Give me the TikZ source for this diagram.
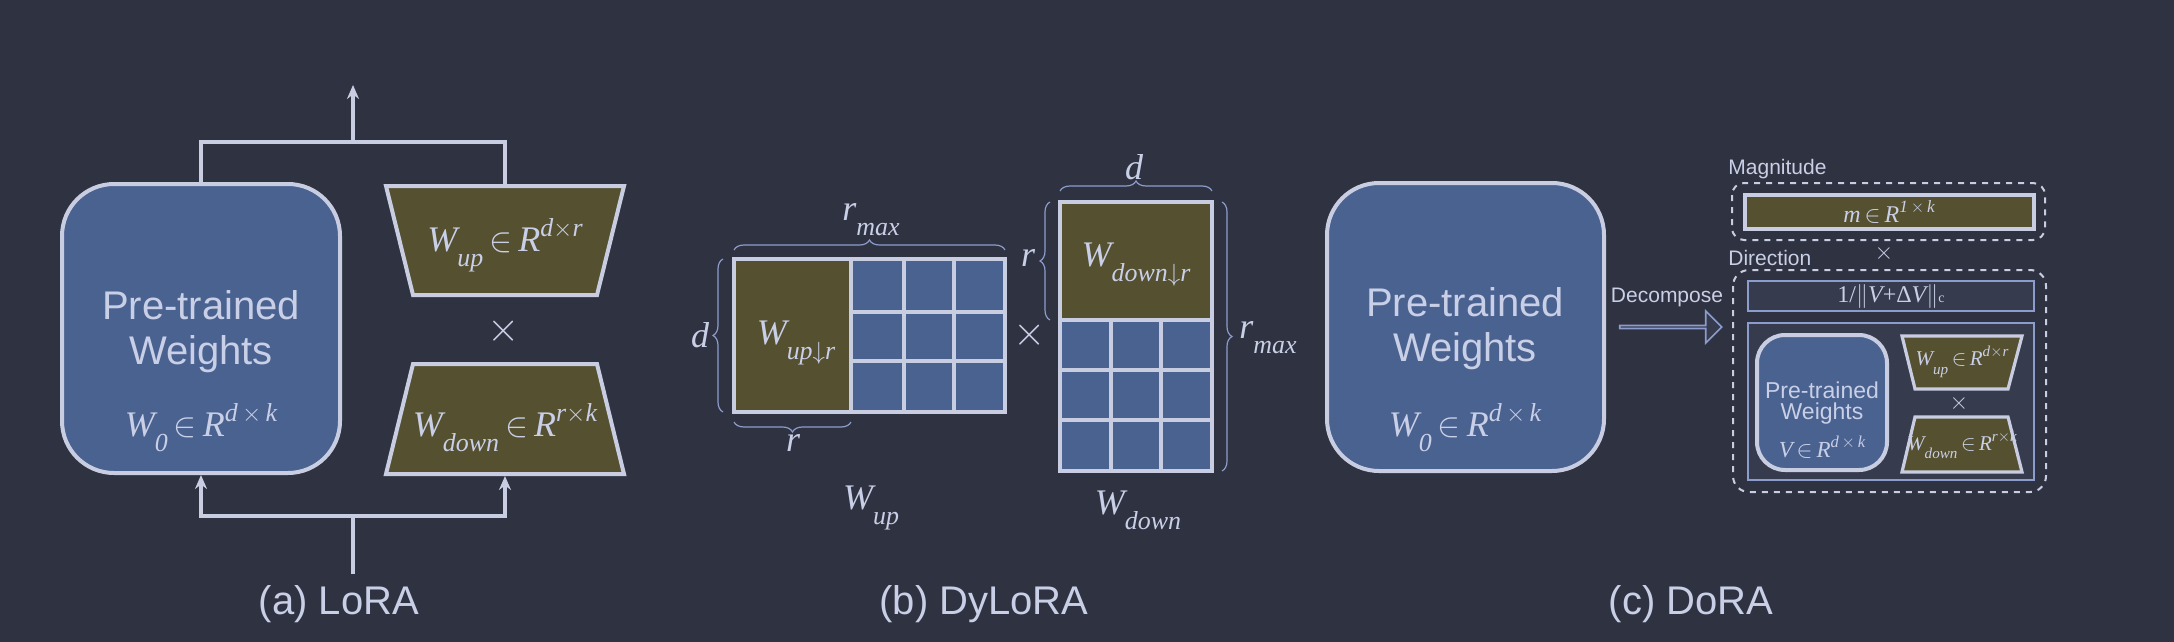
\documentclass[tikz,border=0pt]{standalone}
\usepackage{fontspec}
\setmainfont{Liberation Sans}
\newfontfamily\tm{Liberation Serif}
\usetikzlibrary{decorations.pathreplacing,shapes.arrows,arrows.meta}
\definecolor{bg}{HTML}{2F3240}
\definecolor{bluef}{HTML}{4A6290}
\definecolor{edge}{HTML}{C9CDE2}
\definecolor{olive}{HTML}{545030}
\definecolor{txt}{HTML}{C9CFE6}
\definecolor{thin}{HTML}{8C9CCC}
\definecolor{normf}{HTML}{363B4D}
\newcommand\mi[1]{{\tm\itshape #1}}
\newcommand\lo[1]{\raisebox{-.42em}{\scalebox{.72}{\tm\itshape #1}}}
\newcommand\hi[1]{\raisebox{.42em}{\scalebox{.72}{\tm\itshape #1}}}
\begin{document}
\begin{tikzpicture}[x=0.5pt,y=-0.5pt,
  bx/.style={fill=bluef,draw=edge,line width=2pt},
  tz/.style={fill=olive,draw=edge,line width=2pt},
  con/.style={draw=edge,line width=1.6pt},
  arr/.style={con,-{Stealth[length=7pt,width=6pt]}},
  br/.style={draw=thin,line width=0.6pt,decorate,decoration={brace,amplitude=5pt}},
  t/.style={text=txt,inner sep=0pt},
  big/.style={t,font=\fontsize{20}{23}\selectfont,align=center},
  mth/.style={t,font=\fontsize{18}{20}\selectfont},
  sm/.style={t,font=\fontsize{10.5}{12}\selectfont},
  grid/.style={draw=edge,line width=2pt}]
\fill[bg] (0,0) rectangle (2174,642);
\useasboundingbox (0,0) rectangle (2174,642);
% ---------- (a) LoRA
\draw[bx,rounded corners=26pt] (62,184) rectangle (340,473);
\node[big] (pa) at (201,305) {Pre-trained};
\node[big] (wa) at (201,354) {Weights};
\node[mth] (w0a) at (201,428) {\mi{W}\lo{0}\,$\in$\,\mi{R}\hi{d\,$\times$\,k}};
\draw[tz] (386,186) -- (624,186) -- (597,295) -- (413,295) -- cycle;
\node[mth] (wupa) at (505,245) {\mi{W}\lo{up}\,$\in$\,\mi{R}\hi{d$\times$r}};
\node[t,font=\fontsize{20}{20}\selectfont] (xa) at (504,331) {$\times$};
\draw[tz] (413,364) -- (597,364) -- (624,474) -- (386,474) -- cycle;
\node[mth] (wdna) at (505,428) {\mi{W}\lo{down}\,$\in$\,\mi{R}\hi{r$\times$k}};
\coordinate (at) at (201,184); \coordinate (bt) at (505,186);
\coordinate (tt) at (353,85); \coordinate (tj) at (353,142);
\coordinate (ab) at (201,475); \coordinate (bb) at (505,476);
\coordinate (in) at (353,574); \coordinate (ij) at (353,516);
\draw[con] (at) |- (tj) -| (bt);
\draw[arr] (tj) -- (tt);
\draw[con] (in) -- (ij);
\draw[arr] (ij) -| (ab);
\draw[arr] (ij) -| (bb);
\node[big] (la) at (339,604) {(a) LoRA};
% ---------- (b) DyLoRA
\fill[bluef] (734,259) rectangle (1005,412);
\fill[olive] (734,259) rectangle (851,412);
\draw[grid] (904,259) -- (904,412) (954,259) -- (954,412)
  (851,312) -- (1005,312) (851,361) -- (1005,361) (851,259) -- (851,412);
\draw[grid] (734,259) rectangle (1005,412);
\node[mth] (wupr) at (796,343) {\mi{W}\lo{up$\downarrow$r}};
\draw[br] (734,250) -- (1005,250);
\node[mth] (rmax1) at (871,220) {\mi{r}\lo{max}};
\draw[br] (723,412) -- (723,259);
\node[mth] (d1) at (700,335) {\mi{d}};
\draw[br] (851,422) -- (734,422);
\node[mth] (r1) at (793,443) {\mi{r}};
\node[t,font=\fontsize{20}{20}\selectfont] (xb) at (1030,335) {$\times$};
\fill[bluef] (1060,202) rectangle (1212,471);
\fill[olive] (1060,202) rectangle (1212,320);
\draw[grid] (1111,320) -- (1111,471) (1161,320) -- (1161,471)
  (1060,320) -- (1212,320) (1060,370) -- (1212,370) (1060,420) -- (1212,420);
\draw[grid] (1060,202) rectangle (1212,471);
\node[mth] (wdnr) at (1136,265) {\mi{W}\lo{down$\downarrow$r}};
\draw[br] (1060,191) -- (1212,191);
\node[mth] (d2) at (1134,167) {\mi{d}};
\draw[br] (1050,320) -- (1050,202);
\node[mth] (r2) at (1028,258) {\mi{r}};
\draw[br] (1222,202) -- (1222,471);
\node[mth] (rmax2) at (1268,338) {\mi{r}\lo{max}};
\node[mth] (wup) at (871,508) {\mi{W}\lo{up}};
\node[mth] (wdn) at (1138,510) {\mi{W}\lo{down}};
\node[big] (lb) at (984,604) {(b) DyLoRA};
% ---------- (c) DoRA
\draw[bx,rounded corners=26pt] (1327,183) rectangle (1604,471);
\node[big] (pc) at (1465,302) {Pre-trained};
\node[big] (wc) at (1465,351) {Weights};
\node[mth] (w0c) at (1465,428) {\mi{W}\lo{0}\,$\in$\,\mi{R}\hi{d\,$\times$\,k}};
\node[sm] (dec) at (1667,297) {Decompose};
\node[single arrow,draw=thin,fill=normf,line width=0.8pt,minimum height=51pt,
  minimum width=16pt,single arrow head extend=4pt,single arrow tip angle=90,
  inner sep=0pt] (darr) at (1670,327) {};
\node[sm,anchor=west] (mag) at (1728,169) {Magnitude};
\draw[edge,dashed,line width=1pt,rounded corners=6pt] (1732,183) rectangle (2045,240);
\draw[fill=olive,draw=edge,line width=2pt] (1745,195) rectangle (2034,229);
\node[t,font=\fontsize{12}{12}\selectfont] (m) at (1889,212) {\mi{m}\,$\in$\,\mi{R}\hi{1\,$\times$\,k}};
\node[t,font=\fontsize{13}{13}\selectfont] (xc) at (1884,253) {$\times$};
\node[sm,anchor=west] (dir) at (1728,258) {Direction};
\draw[edge,dashed,line width=1pt,rounded corners=8pt] (1733,270) rectangle (2046,492);
\draw[fill=normf,draw=thin,line width=0.8pt] (1748,281) rectangle (2034,311);
\node[t,font=\fontsize{12}{12}\selectfont] (norm) at (1891,296) {{\tm 1/}$\|$\mi{V}{\tm +Δ}\mi{V}$\|${\tm\scriptsize c}};
\draw[fill=normf,draw=thin,line width=0.8pt] (1748,323) rectangle (2034,480);
\draw[bx,rounded corners=14pt] (1757,335) rectangle (1887,470);
\node[t,font=\fontsize{11.5}{13}\selectfont] (pd) at (1822,390) {Pre-trained};
\node[t,font=\fontsize{11.5}{13}\selectfont] (wd) at (1822,414) {Weights};
\node[t,font=\fontsize{11.5}{13}\selectfont] (vd) at (1822,447) {\mi{V}\,$\in$\,\mi{R}\hi{d\,$\times$\,k}};
\draw[tz,line width=1.6pt] (1902,336) -- (2022,336) -- (2008,389) -- (1915,389) -- cycle;
\node[t,font=\fontsize{10.5}{12}\selectfont] (wupd) at (1962,362) {\mi{W}\lo{up}\,$\in$\,\mi{R}\hi{d$\times$r}};
\node[t,font=\fontsize{12}{12}\selectfont] (xd) at (1959,403) {$\times$};
\draw[tz,line width=1.6pt] (1915,417) -- (2008,417) -- (2022,472) -- (1902,472) -- cycle;
\node[t,font=\fontsize{10.5}{12}\selectfont] (wdnd) at (1962,445) {\mi{W}\lo{down}\,$\in$\,\mi{R}\hi{r$\times$k}};
\node[big] (lc) at (1691,604) {(c) DoRA};
\end{tikzpicture}
\end{document}
